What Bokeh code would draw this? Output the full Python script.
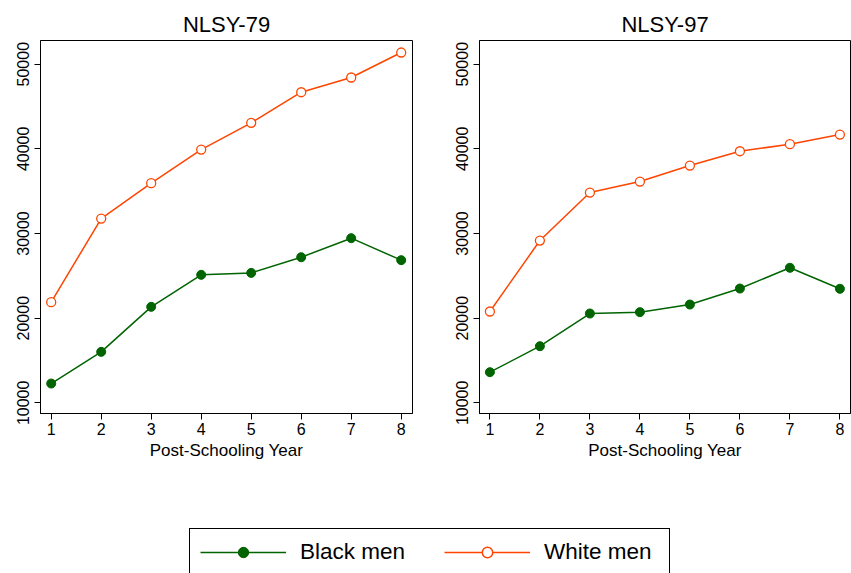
from bokeh.plotting import figure
from bokeh.layouts import column, row
from bokeh.models import Range1d, Legend, LegendItem, FixedTicker
from bokeh.embed import file_html
from bokeh.resources import INLINE

# ---- data ----
years = [1, 2, 3, 4, 5, 6, 7, 8]
black_79 = [12280, 16020, 21340, 25120, 25350, 27200, 29450, 26850]
white_79 = [21890, 31770, 35950, 39920, 43070, 46690, 48430, 51380]
black_97 = [13620, 16690, 20550, 20710, 21610, 23500, 25950, 23470]
white_97 = [20790, 29170, 34840, 36140, 38030, 39720, 40550, 41690]
titles = ["NLSY-79", "NLSY-97"]
y_ticks = [10000, 20000, 30000, 40000, 50000]
x_label = "Post-Schooling Year"
series_labels = ["Black men", "White men"]

GREEN = "#006400"
ORANGE = "#FF4500"
FONT = "Liberation Sans"


def panel(title, black, white, width, bl, br, xr):
    p = figure(width=width, height=470, output_backend="svg", toolbar_location=None,
               x_range=Range1d(*xr), y_range=Range1d(8740, 52800),
               min_border_left=bl, min_border_right=br, min_border_top=40,
               min_border_bottom=57, title=title)
    p.title.text_font = FONT
    p.title.text_font_size = "22px"
    p.title.text_font_style = "normal"
    p.title.text_color = "black"
    p.title.align = "center"
    p.title.standoff = 7
    p.xgrid.visible = False
    p.ygrid.visible = False
    p.outline_line_color = "black"
    p.outline_line_alpha = 1
    p.outline_line_width = 1
    p.background_fill_color = "white"
    p.border_fill_color = "white"

    p.xaxis.ticker = FixedTicker(ticks=years)
    p.yaxis.ticker = FixedTicker(ticks=y_ticks)
    p.yaxis.major_label_orientation = "vertical"
    for ax in (p.xaxis[0], p.yaxis[0]):
        ax.axis_line_color = "black"
        ax.major_tick_line_color = "black"
        ax.major_tick_out = 6
        ax.major_tick_in = 0
        ax.minor_tick_line_color = None
        ax.major_label_text_font = FONT
        ax.major_label_text_font_size = "16px"
        ax.major_label_text_color = "black"
    p.xaxis.major_label_standoff = 3
    p.yaxis.major_label_standoff = 5
    p.xaxis.axis_label = x_label
    p.xaxis.axis_label_text_font = FONT
    p.xaxis.axis_label_text_font_size = "17px"
    p.xaxis.axis_label_text_font_style = "normal"
    p.xaxis.axis_label_text_color = "black"
    p.xaxis.axis_label_standoff = 3

    p.line(years, black, line_color=GREEN, line_width=1.5)
    p.scatter(years, black, size=9, fill_color=GREEN, line_color=GREEN)
    p.line(years, white, line_color=ORANGE, line_width=1.5)
    p.scatter(years, white, size=9, fill_color="white", line_color=ORANGE, line_width=1.3)
    return p


p1 = panel(titles[0], black_79, white_79, 425, 40, 13, (0.786, 8.226))
p2 = panel(titles[1], black_97, white_97, 426, 54, 1, (0.792, 8.212))

leg = figure(width=851, height=103, output_backend="svg", toolbar_location=None,
             x_range=Range1d(0, 1), y_range=Range1d(0, 1),
             x_axis_type=None, y_axis_type=None, min_border=0,
             outline_line_color=None)
leg.xgrid.visible = False
leg.ygrid.visible = False
rb1 = leg.line(years, black_79, line_color=GREEN, line_width=1.5)
rb2 = leg.scatter(years, black_79, size=12, fill_color=GREEN, line_color=GREEN)
rw1 = leg.line(years, white_79, line_color=ORANGE, line_width=1.5)
rw2 = leg.scatter(years, white_79, size=10, fill_color="white", line_color=ORANGE, line_width=1.5)

legend = Legend(items=[LegendItem(label=series_labels[0], renderers=[rb1, rb2]),
                       LegendItem(label=series_labels[1], renderers=[rw1, rw2])],
                location=(189, -3), orientation="horizontal",
                glyph_width=86, glyph_height=26, label_height=26, label_width=115,
                label_standoff=14, spacing=29, padding=10, margin=0,
                label_text_font=FONT, label_text_font_size="22.5px", label_text_color="black",
                border_line_color="black", border_line_width=1, border_line_alpha=1,
                background_fill_color="white", background_fill_alpha=1)
leg.add_layout(legend)

layout = column(row(p1, p2, spacing=0), leg, spacing=0)
open("out.html", "w").write(file_html(layout, INLINE))
